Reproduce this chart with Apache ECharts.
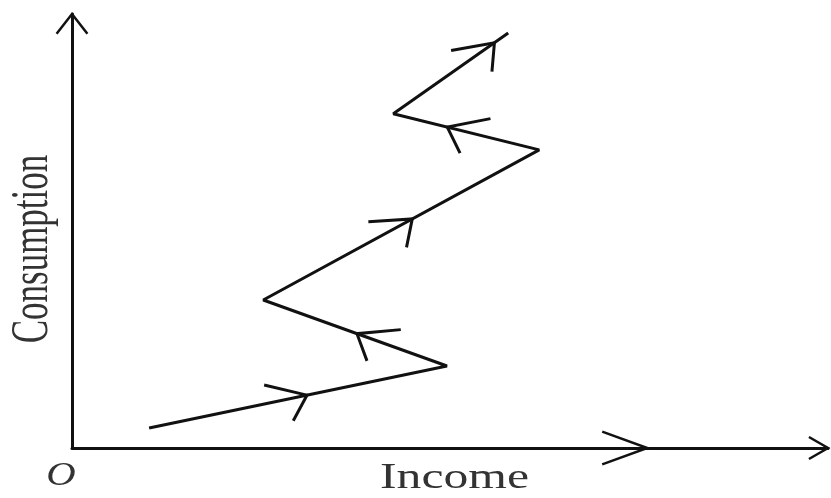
<!DOCTYPE html>
<html lang="en">
<head>
    <meta charset="UTF-8">
    <title>Income and consumption</title>
    <style>
        html, body { margin: 0; padding: 0; background: #fff; }
    </style>
</head>
<body>

<div id="main" style="width: 831px;height:498px;"></div>

</body>
<script src="https://cdn.jsdelivr.net/npm/echarts@6/dist/echarts.min.js"></script>
<script type="text/javascript">
    // zigzag path (axes run 0..100)
    var income = [10.2, 49.6, 25.3, 61.8, 42.5, 57.7];
    var consumption = [4.6, 18.9, 34.1, 68.7, 77.0, 95.6];
    // where the arrowhead sits along each leg (0 = start, 1 = end)
    var arrowAt = [0.53, 0.49, 0.54, 0.63, 0.88];
    // extra arrowheads on the axes: [fromX, fromY, toX, toY, at]
    var axisArrows = [
        [0, 0, 0, 100, 1],
        [0, 0, 100, 0, 1],
        [0, 0, 76.1, 0, 1]
    ];

    var pathData = income.map(function (x, i) {
        return [x, consumption[i]];
    });

    // legs of the path -> arrowhead items
    var legArrows = [];
    for (var i = 0; i < arrowAt.length; i++) {
        legArrows.push([income[i], consumption[i], income[i + 1], consumption[i + 1], arrowAt[i]]);
    }

    function rot(v, deg) {
        var a = deg * Math.PI / 180;
        return [v[0] * Math.cos(a) - v[1] * Math.sin(a), v[0] * Math.sin(a) + v[1] * Math.cos(a)];
    }

    // open chevron arrowhead, drawn in pixel space after going through the axes
    function chevron(p0, p1, at, angA, lenA, angB, lenB) {
        var tip = [p0[0] + (p1[0] - p0[0]) * at, p0[1] + (p1[1] - p0[1]) * at];
        var dx = p0[0] - p1[0], dy = p0[1] - p1[1];
        var d = Math.sqrt(dx * dx + dy * dy);
        var back = [dx / d, dy / d];
        var a = rot(back, angA), b = rot(back, angB);
        return [
            [tip[0] + a[0] * lenA, tip[1] + a[1] * lenA],
            tip,
            [tip[0] + b[0] * lenB, tip[1] + b[1] * lenB]
        ];
    }

    var main = document.getElementById('main');
    var myChart = echarts.init(main);

    var ink = '#111';
    var serif = '"Liberation Serif", "DejaVu Serif", serif';

    var option = {
        animation: false,
        backgroundColor: '#fff',
        grid: { left: 72, right: 3, top: 14, bottom: 50 },
        xAxis: {
            type: 'value', min: 0, max: 100,
            splitLine: { show: false },
            axisTick: { show: false },
            axisLabel: { show: false },
            axisLine: { lineStyle: { color: ink, width: 3 } }
        },
        yAxis: {
            type: 'value', min: 0, max: 100,
            splitLine: { show: false },
            axisTick: { show: false },
            axisLabel: { show: false },
            axisLine: { lineStyle: { color: ink, width: 3 } }
        },
        graphic: [
            {
                type: 'text', x: 61, y: 476, scaleX: 1.2,
                style: { text: 'O', font: 'italic 34px ' + serif, fill: '#333', align: 'center', verticalAlign: 'middle' }
            },
            {
                type: 'text', x: 380, y: 479, scaleX: 1.42,
                style: { text: 'Income', font: '35px ' + serif, fill: '#333', align: 'left', verticalAlign: 'middle' }
            },
            {
                type: 'text', x: 33, y: 249, rotation: Math.PI / 2, scaleY: 1.5,
                style: { text: 'Consumption', font: '35px ' + serif, fill: '#333', align: 'center', verticalAlign: 'middle' }
            }
        ],
        series: [
            {
                type: 'line',
                data: pathData,
                symbol: 'none',
                clip: false,
                lineStyle: { color: ink, width: 3 },
                silent: true
            },
            {
                // arrowheads along the path
                type: 'custom',
                data: legArrows,
                clip: false,
                silent: true,
                renderItem: function (params, api) {
                    var p0 = api.coord([api.value(0), api.value(1)]);
                    var p1 = api.coord([api.value(2), api.value(3)]);
                    var s = p1[0] > p0[0] ? 1 : -1;
                    var pts = chevron(p0, p1, api.value(4), s * 25, 44, -s * 50, 29);
                    return {
                        type: 'polyline',
                        shape: { points: pts },
                        style: { stroke: ink, lineWidth: 3, fill: null, lineJoin: 'miter' }
                    };
                }
            },
            {
                // arrowheads on the axes
                type: 'custom',
                data: axisArrows,
                clip: false,
                silent: true,
                renderItem: function (params, api) {
                    var p0 = api.coord([api.value(0), api.value(1)]);
                    var p1 = api.coord([api.value(2), api.value(3)]);
                    var pts;
                    if (params.dataIndex === 0) pts = chevron(p0, p1, 1, 38, 25, -38, 25);
                    else if (params.dataIndex === 1) pts = chevron(p0, p1, 1, 30, 22, -30, 22);
                    else pts = chevron(p0, p1, 1, 20, 48, -20, 48);
                    return {
                        type: 'polyline',
                        shape: { points: pts },
                        style: { stroke: ink, lineWidth: 2.5, fill: null }
                    };
                }
            }
        ]
    };

    myChart.setOption(option);
</script>
</html>
